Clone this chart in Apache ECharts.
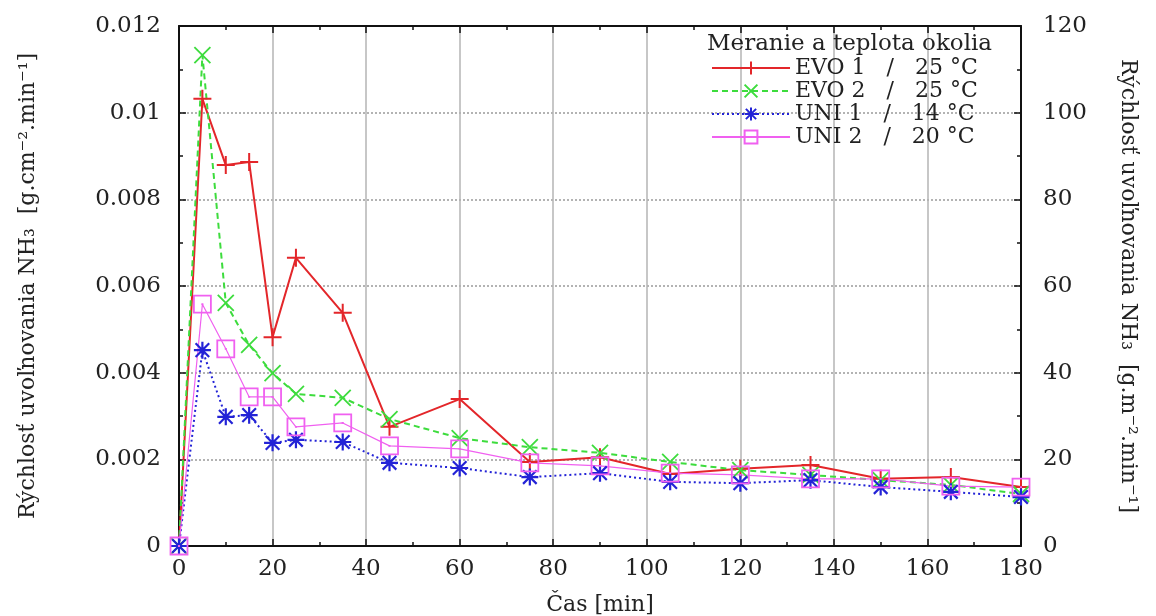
<!DOCTYPE html>
<html><head><meta charset="utf-8">
<script src="https://cdn.jsdelivr.net/npm/echarts@6/dist/echarts.min.js"></script>
<style>html,body{margin:0;padding:0;background:#fff}#c{width:1156px;height:616px}</style>
</head><body><div id="c"></div>
<script>
const times = [0,5,10,15,20,25,35,45,60,75,90,105,120,135,150,165,180];
const evo1 = [0,0.01032,0.00879,0.00886,0.00482,0.00665,0.00538,0.00275,0.00339,0.00194,0.00205,0.00166,0.00178,0.00187,0.00155,0.00159,0.00136];
const evo2 = [0,0.01133,0.00561,0.00464,0.00399,0.00351,0.00342,0.00293,0.00249,0.00228,0.00215,0.00194,0.00175,0.00164,0.00152,0.00141,0.00120];
const uni1 = [0,0.00452,0.00298,0.00302,0.00238,0.00245,0.00240,0.00192,0.00180,0.00159,0.00168,0.00148,0.00145,0.00152,0.00136,0.00125,0.00113];
const uni2 = [0,0.00558,0.00455,0.00344,0.00344,0.00275,0.00284,0.00231,0.00224,0.00192,0.00185,0.00168,0.00164,0.00155,0.00155,0.00138,0.00136];
const seriesNames = ['EVO 1   /   25 °C','EVO 2   /   25 °C','UNI 1   /   14 °C','UNI 2   /   20 °C'];
const legendTitle = 'Meranie a teplota okolia';
const xTitle = 'Čas [min]';
const yLeftTitle = 'Rýchlosť uvoľnovania NH₃  [g.cm⁻².min⁻¹]';
const yRightTitle = 'Rýchlosť uvoľnovania NH₃  [g.m⁻².min⁻¹]';

const FONT = 'DejaVu Serif';
const TXT = '#222';
const pair = arr => times.map((t,i)=>[t,arr[i]]);

const SYM = {
  plus: 'path://M0,-1L0,1M-1,0L1,0',
  cross: 'path://M-1,-1L1,1M-1,1L1,-1',
  star: 'path://M0,-1L0,1M-1,0L1,0M-0.8,-0.8L0.8,0.8M-0.8,0.8L0.8,-0.8',
  square: 'path://M-1,-1L1,-1L1,1L-1,1ZM-0.12,0L0.12,0'
};

function mk(name, data, color, lineType, lineWidth, sym, size, bw){
  return {
    name, type:'line', data: pair(data), xAxisIndex:0, yAxisIndex:0,
    symbol: sym, symbolSize: size, showAllSymbol: true,
    lineStyle:{color, type: lineType, width: lineWidth},
    itemStyle:{color:'rgba(0,0,0,0)', borderColor: color, borderWidth: bw},
    emphasis:{disabled:true}, animation:false, z: 3
  };
}

const chart = echarts.init(document.getElementById('c'), null, {renderer:'canvas'});
const axisLabelStyle = {fontFamily: FONT, fontSize: 23, color: TXT};
const tickCommon = {
  axisLine:{show:true, onZero:false, lineStyle:{color:'#111', width:2}},
  axisTick:{show:true, inside:true, length:7, lineStyle:{color:'#111', width:1.5}},
  minorTick:{show:true, splitNumber:2, length:4, lineStyle:{color:'#111', width:1.5}}
};
chart.setOption({
  backgroundColor:'#fff',
  animation:false,
  title:{text: legendTitle, left: 702, top: 28, textStyle:{fontFamily: FONT, fontSize: 23, fontWeight:'normal', color: TXT}},
  legend:{
    orient:'vertical', left: 706, top: 52, itemWidth: 78, itemHeight: 16, itemGap: 1,
    textStyle:{fontFamily: FONT, fontSize: 22, lineHeight: 22, color: TXT},
    data: seriesNames
  },
  grid:{left:179, right:135, top:26, bottom:70, containLabel:false, outerBoundsMode:'none'},
  xAxis:[{
    type:'value', min:0, max:180, interval:20, position:'bottom',
    name: xTitle, nameLocation:'middle', nameGap: 48,
    nameTextStyle:{fontFamily: FONT, fontSize: 22, color: TXT},
    ...tickCommon,
    axisLabel:{...axisLabelStyle, margin: 12},
    splitLine:{show:true, lineStyle:{color:'#b5b5b5', width:1.5, type:'solid'}}
  },{
    type:'value', min:0, max:180, interval:20, position:'top',
    ...tickCommon,
    axisLabel:{show:false}, splitLine:{show:false}
  }],
  yAxis:[{
    type:'value', min:0, max:0.012, interval:0.002, position:'left',
    name: yLeftTitle, nameLocation:'middle', nameGap: 140, nameRotate: 90,
    nameTextStyle:{fontFamily: FONT, fontSize: 22, color: TXT},
    ...tickCommon,
    axisLabel:{...axisLabelStyle, margin: 18, formatter: v => (v===0?'0':String(+v.toFixed(3)))},
    splitLine:{show:true, lineStyle:{color:'#9a9a9a', width:1.5, type:[2,2]}}
  },{
    type:'value', min:0, max:120, interval:20, position:'right',
    name: yRightTitle, nameLocation:'middle', nameGap: 96, nameRotate: -90,
    nameTextStyle:{fontFamily: FONT, fontSize: 22, color: TXT},
    ...tickCommon,
    axisLabel:{...axisLabelStyle, margin: 22},
    splitLine:{show:false}
  }],
  series:[
    mk(seriesNames[0], evo1, '#e3262a', 'solid', 2, SYM.plus, 18, 2),
    mk(seriesNames[1], evo2, '#3ddc3d', [6,4], 2, SYM.cross, 16, 1.8),
    mk(seriesNames[2], uni1, '#2323d6', [2,3], 2, SYM.star, 17, 2.2),
    mk(seriesNames[3], uni2, '#f060f0', 'solid', 1.2, SYM.square, 17, 1.8)
  ]
});
</script></body></html>
